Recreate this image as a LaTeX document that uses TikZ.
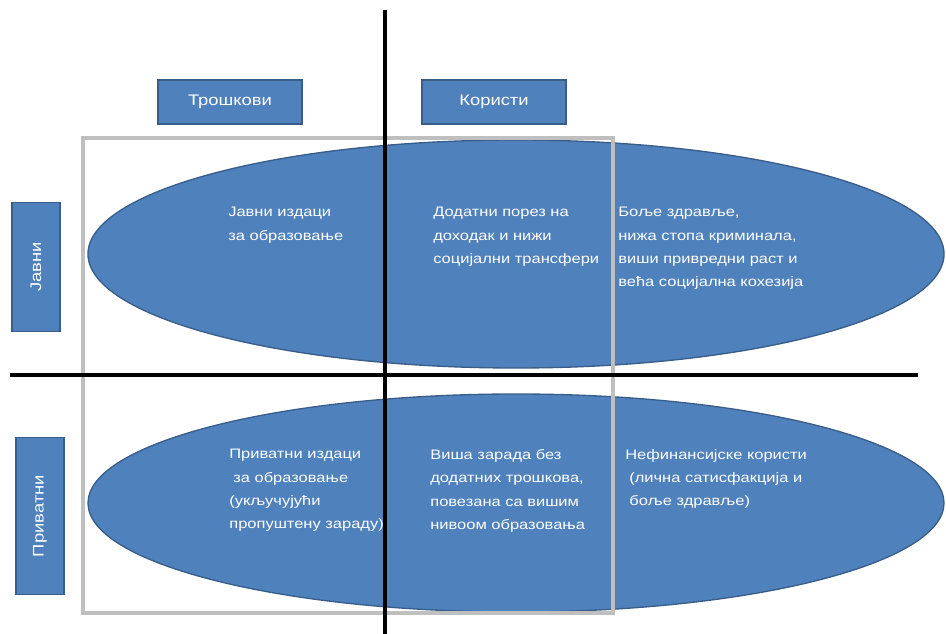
\documentclass[tikz,border=0pt]{standalone}
\usepackage{fontspec}
\setmainfont{Liberation Sans}
\usepackage{tikz}
\definecolor{offblue}{HTML}{4F81BD}
\definecolor{offedge}{HTML}{385D8A}
\definecolor{frame}{HTML}{BFBFBF}
\tikzset{
  blob/.style={fill=offblue,draw=offedge,line width=1pt},
  tag/.style={fill=offblue,draw=offedge,line width=1.2pt,text=white,font=\fontsize{11.5}{13}\selectfont,inner sep=0pt},
  txt/.style={anchor=north west,align=left,text=white,font=\fontsize{10.3}{17.5}\selectfont,inner sep=0pt,xscale=1.2}
}
\newcommand{\ind}{\hspace*{2.5pt}}

\begin{document}
\begin{tikzpicture}[x=0.75pt,y=-0.75pt]
\useasboundingbox (0,0) rectangle (946,634);
\fill[white] (0,0) rectangle (946,634);
\draw [blob] (516,254) ellipse (428 and 114);
\draw [blob] (516,503) ellipse (428 and 109);
\draw [frame,line width=2.4pt] (83,138) rectangle (613,613);
\draw [line width=2.6pt] (385,10) -- (385,634);
\draw [line width=2.6pt] (10,375) -- (918,375);
% column and row heads
\node [tag,minimum width=108pt,minimum height=33pt] (troskovi) at (230,102) {\scalebox{1.2}[1]{Трошкови}};
\node [tag,minimum width=108pt,minimum height=33pt] (koristi) at (494,102) {\scalebox{1.2}[1]{Користи}};
\node [tag,minimum width=97pt,minimum height=36pt,rotate=90] (javni) at (36,267) {\scalebox{1.2}[1]{Јавни}};
\node [tag,minimum width=118pt,minimum height=36pt,rotate=90] (privatni) at (40,516) {\scalebox{1.2}[1]{Приватни}};
% cells
\node [txt] (jt) at (228,207) {Јавни издаци\\за образовање};
\node [txt] (jk) at (433,207) {Додатни порез на\\доходак и нижи\\социјални трансфери};
\node [txt] (js) at (618,207) {Боље здравље,\\нижа стопа криминала,\\виши привредни раст и\\већа социјална кохезија};
\node [txt] (pt) at (229,449) {Приватни издаци\\\ind за образовање\\(укључујући\\пропуштену зараду)};
\node [txt] (pk) at (430,449) {Виша зарада без\\додатних трошкова,\\повезана са вишим\\нивоом образовања};
\node [txt] (ps) at (625,449) {Нефинансијске користи\\\ind (лична сатисфакција и\\\ind боље здравље)};
\end{tikzpicture}
\end{document}
